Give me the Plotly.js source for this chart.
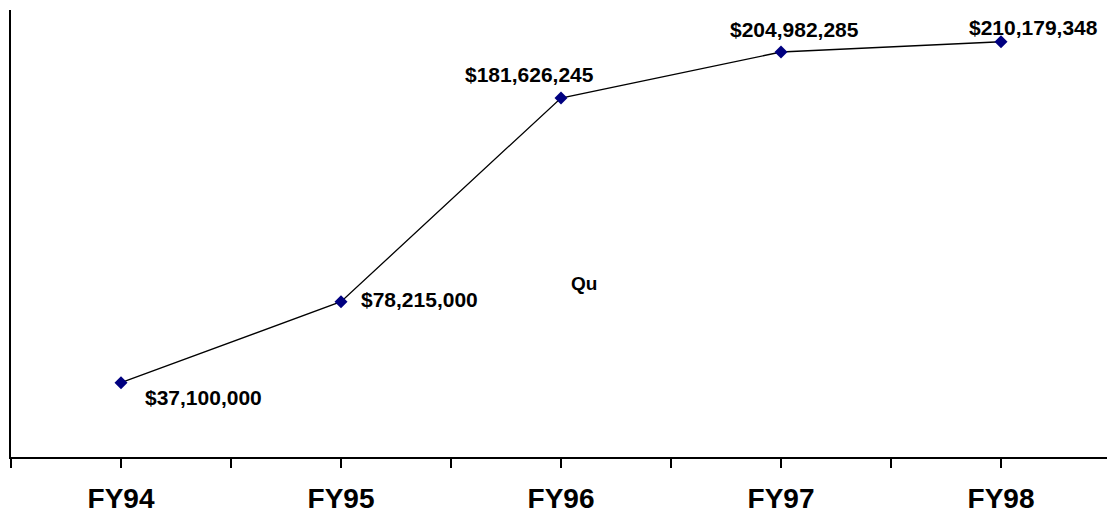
<!DOCTYPE html>
<html>
<head>
<meta charset="utf-8">
<script src="https://cdn.plot.ly/plotly-3.0.1.min.js"></script>
<style>
  html, body { margin: 0; padding: 0; background: #fff; }
  #chart { width: 1107px; height: 514px; }
</style>
</head>
<body>
<div id="chart"></div>
<script>
// Fiscal years and funding totals (US dollars)
var years = ['FY94', 'FY95', 'FY96', 'FY97', 'FY98'];
var amounts = [37100000, 78215000, 181626245, 204982285, 210179348];

// Per-label offsets (px) of each value label from its point
var labelShiftX = [82, 78, -32, 13, 32];
var labelShiftY = [-15, 2, 24, 23, 14];

var FONT = '"Liberation Sans", Arial, Helvetica, sans-serif';
var idx = years.map(function (_, i) { return i; });

function money(v) {
  return '$' + v.toLocaleString('en-US');
}

// Tick marks at every category and halfway between, names only on categories
var tickVals = [];
var tickText = [];
for (var t = -0.5; t <= years.length - 0.5; t += 0.5) {
  tickVals.push(t);
  tickText.push(Number.isInteger(t) ? years[t] : '');
}

var trace = {
  x: idx,
  y: amounts,
  type: 'scatter',
  mode: 'lines+markers',
  line: { color: '#000000', width: 1.3 },
  marker: { symbol: 'diamond', size: 10, color: '#000080' },
  hoverinfo: 'skip'
};

var annotations = amounts.map(function (v, i) {
  return {
    x: idx[i], y: v, xref: 'x', yref: 'y',
    text: money(v), showarrow: false,
    xshift: labelShiftX[i], yshift: labelShiftY[i],
    font: { family: FONT, size: 21, color: '#000000', weight: 'bold' }
  };
});

// Stray "Qu" text inside the plot area, positioned in paper coordinates
annotations.push({
  x: (584 - 11) / (1107 - 11), y: (457 - 284) / (457 - 10),
  xref: 'paper', yref: 'paper', text: 'Qu', showarrow: false,
  font: { family: FONT, size: 19, color: '#000000', weight: 'bold' }
});

var layout = {
  width: 1107,
  height: 514,
  margin: { l: 11, r: 0, t: 10, b: 57, pad: 0 },
  paper_bgcolor: '#ffffff',
  plot_bgcolor: '#ffffff',
  showlegend: false,
  xaxis: {
    type: 'linear',
    range: [-0.5, -0.5 + (1107 - 11) / 220],
    tickmode: 'array',
    tickvals: tickVals,
    ticktext: tickText,
    ticks: 'outside',
    ticklen: 9,
    tickwidth: 1.3,
    tickcolor: '#000000',
    showline: true,
    linecolor: '#000000',
    linewidth: 1.6,
    showgrid: false,
    zeroline: false,
    ticklabelstandoff: 7,
    tickfont: { family: FONT, size: 28, color: '#000000', weight: 'bold' },
    fixedrange: true
  },
  yaxis: {
    range: [-0.6e6, 226.3e6],
    showline: true,
    linecolor: '#000000',
    linewidth: 1.8,
    showgrid: false,
    zeroline: false,
    showticklabels: false,
    ticks: '',
    fixedrange: true
  },
  annotations: annotations
};

Plotly.newPlot('chart', [trace], layout, { displayModeBar: false, staticPlot: true });
</script>
</body>
</html>
